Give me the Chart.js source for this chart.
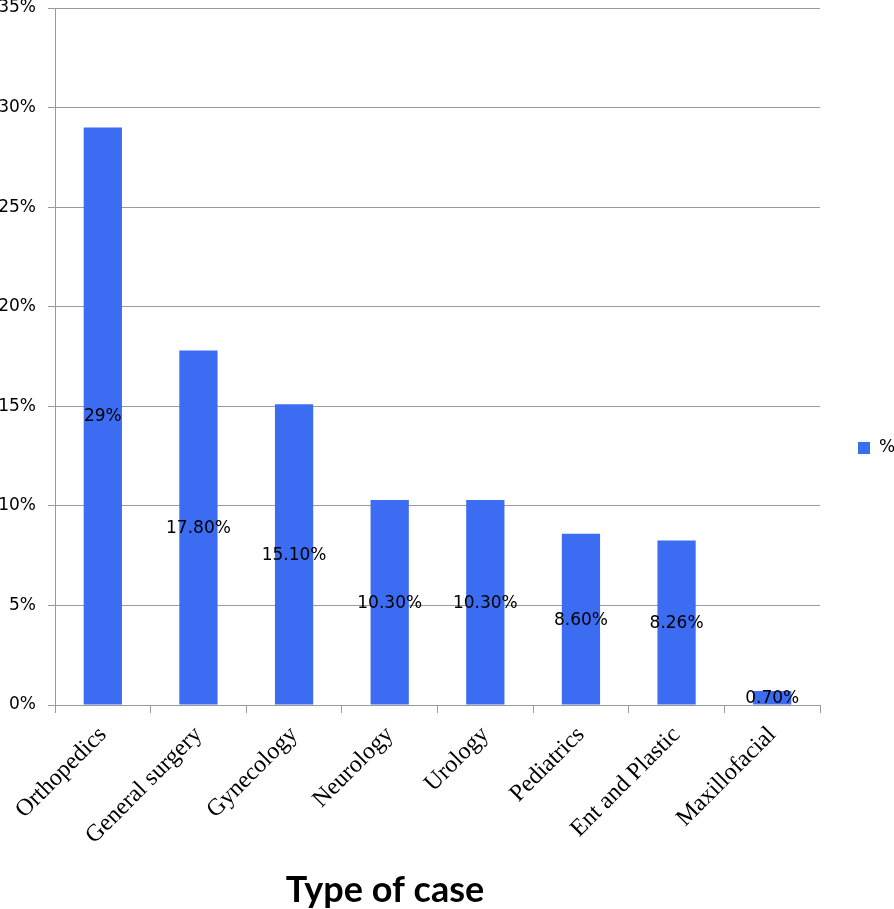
<!DOCTYPE html>
<html lang="en">
<head>
    <meta charset="UTF-8">
    <title>Type of case</title>
    <script src="https://cdn.jsdelivr.net/npm/chart.js"></script>
    <style>
        html, body { margin: 0; padding: 0; background: #fff; }
        #wrap { width: 894px; height: 909px; }
    </style>
</head>
<body>
    <div id="wrap"><canvas id="myChart" width="894" height="909"></canvas></div>
    <script>
        // data
        const categories = ['Orthopedics', 'General surgery', 'Gynecology', 'Neurology', 'Urology', 'Pediatrics', 'Ent and Plastic', 'Maxillofacial'];
        const percentValues = [29, 17.8, 15.1, 10.3, 10.3, 8.6, 8.26, 0.7];
        const valueLabels = ['29%', '17.80%', '15.10%', '10.30%', '10.30%', '8.60%', '8.26%', '0.70%'];
        const yTicks = [0, 5, 10, 15, 20, 25, 30, 35];
        const seriesName = '%';
        const axisTitle = 'Type of case';

        const barColor = '#3b6cf2';
        const gridColor = '#9a9a9a';

        // labels in the middle of each bar
        const barLabels = {
            id: 'barLabels',
            afterDatasetsDraw(chart) {
                const ctx = chart.ctx;
                const meta = chart.getDatasetMeta(0);
                ctx.save();
                ctx.font = '17px "DejaVu Sans"';
                ctx.fillStyle = '#000';
                ctx.textAlign = 'center';
                ctx.textBaseline = 'middle';
                meta.data.forEach((bar, i) => {
                    const mid = (bar.y + bar.base) / 2;
                    ctx.fillText(valueLabels[i], bar.x, mid + 1);
                });
                ctx.restore();
            }
        };

        // legend on the right + axis title underneath
        const extras = {
            id: 'extras',
            afterDraw(chart) {
                const ctx = chart.ctx;
                ctx.save();
                ctx.fillStyle = chart.data.datasets[0].backgroundColor;
                ctx.fillRect(858, 442, 12, 12);
                ctx.fillStyle = '#000';
                ctx.font = '17px "DejaVu Sans"';
                ctx.textAlign = 'left';
                ctx.textBaseline = 'middle';
                ctx.fillText(chart.data.datasets[0].label, 879, 448);

                ctx.font = 'bold 36px Lato';
                ctx.textAlign = 'center';
                ctx.textBaseline = 'alphabetic';
                ctx.fillText(axisTitle, 385, 902);
                ctx.restore();
            }
        };

        const ctx = document.getElementById('myChart').getContext('2d');
        const myChart = new Chart(ctx, {
            type: 'bar',
            data: {
                labels: categories,
                datasets: [{
                    label: seriesName,
                    data: percentValues,
                    backgroundColor: barColor,
                    barPercentage: 0.4,
                    categoryPercentage: 1
                }]
            },
            options: {
                responsive: false,
                animation: false,
                layout: { padding: { top: 8, right: 74, left: 0, bottom: 0 } },
                plugins: {
                    legend: { display: false },
                    tooltip: { enabled: false }
                },
                scales: {
                    x: {
                        grid: { offset: true, drawOnChartArea: false, tickLength: 8, color: gridColor },
                        border: { color: gridColor },
                        ticks: {
                            color: '#000',
                            font: { family: '"Liberation Serif"', size: 24 },
                            minRotation: 45,
                            maxRotation: 45,
                            padding: 8
                        },
                        afterFit(scale) {
                            scale.height = 204;
                            scale.paddingLeft = 0;
                            scale.paddingRight = 0;
                        }
                    },
                    y: {
                        min: 0,
                        max: 35,
                        afterBuildTicks(scale) { scale.ticks = yTicks.map(v => ({ value: v })); },
                        grid: { color: gridColor, tickLength: 7 },
                        border: { color: gridColor },
                        ticks: {
                            color: '#000',
                            font: { family: '"DejaVu Sans"', size: 17 },
                            padding: 12,
                            callback: v => v + '%'
                        },
                        afterFit(scale) {
                            scale.width = 55;
                            scale.paddingTop = 0;
                            scale.paddingBottom = 0;
                        }
                    }
                }
            },
            plugins: [barLabels, extras]
        });
    </script>
</body>
</html>
